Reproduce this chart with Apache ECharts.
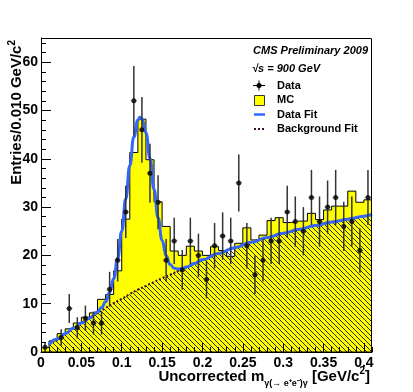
<!DOCTYPE html>
<html>
<head>
<meta charset="utf-8">
<script src="https://cdn.jsdelivr.net/npm/echarts@6/dist/echarts.min.js"></script>
<style>
  html, body { margin: 0; padding: 0; background: #fff; }
  #chart { width: 413px; height: 392px; }
</style>
</head>
<body>
<div id="chart"></div>
<script>
// histogram bins: 0.00 - 0.41, width 0.01
const binWidth = 0.01;
const nBins = 41;

// MC (yellow histogram)
const mcValues = [
  0.9, 2.3, 3.8, 4.8, 6.0, 7.2, 8.1, 10.9, 11.9, 16.8,
  27.5, 41.3, 48.2, 39.8, 31.1, 26.0, 20.9, 20.0, 21.9, 20.9,
  20.0, 21.8, 21.0, 19.8, 22.5, 25.7, 23.2, 24.2, 27.2, 27.8,
  26.8, 27.1, 27.1, 28.7, 27.4, 29.4, 30.2, 30.2, 33.3, 31.0,
  31.5
];

// data points (null = empty bin) and their error bars
const dataValues = [
  1, null, 3, 9, 5, 7, 6, 6, 13, 19,
  29, 52, 46, 37, 31, 19, 23, 17, 23, 20,
  15, 22, 24, 23, 35, 22, 16, 19, 23, 23,
  29, 27, 25, 32, 27, 30, 32, 26, 27, 21,
  32
];
const dataErrors = [
  1.0, null, 1.7, 3.0, 2.2, 2.6, 2.4, 2.4, 3.6, 4.4,
  5.4, 7.2, 6.8, 6.1, 5.6, 4.4, 4.8, 4.1, 4.8, 4.5,
  3.9, 4.7, 4.9, 4.8, 5.9, 4.7, 4.0, 4.4, 4.8, 4.8,
  5.4, 5.2, 5.0, 5.7, 5.2, 5.5, 5.7, 5.1, 5.2, 4.6,
  5.7
];

// data fit (blue curve)
const fitX = [0.01, 0.02, 0.03, 0.04, 0.05, 0.06, 0.07, 0.075, 0.08, 0.085,
  0.09, 0.095, 0.1, 0.105, 0.11, 0.115, 0.12, 0.1225, 0.125, 0.13,
  0.135, 0.14, 0.145, 0.15, 0.155, 0.16, 0.165, 0.17, 0.175, 0.18,
  0.19, 0.2, 0.22, 0.24, 0.26, 0.28, 0.3, 0.32, 0.34, 0.36,
  0.38, 0.4, 0.41];
const fitY = [1.5, 2.7, 3.8, 4.9, 6.0, 7.0, 8.3, 9.2, 10.4, 12.3,
  15.2, 19.4, 25.0, 31.7, 38.6, 44.5, 48.0, 48.6, 48.3, 45.4,
  40.1, 33.7, 27.8, 23.1, 19.9, 18.1, 17.35, 17.2, 17.3, 17.6,
  18.3, 19.1, 20.4, 21.6, 22.7, 23.7, 24.6, 25.4, 26.2, 26.9,
  27.5, 28.1, 28.5];

// background fit (dotted curve, hatched area)
const bkgX = [0.01, 0.02, 0.03, 0.04, 0.05, 0.06, 0.07, 0.08, 0.09, 0.1,
  0.11, 0.12, 0.13, 0.14, 0.15, 0.16, 0.17, 0.18, 0.19, 0.2,
  0.22, 0.24, 0.26, 0.28, 0.3, 0.32, 0.34, 0.36, 0.38, 0.4, 0.41];
const bkgY = [1.5, 2.7, 3.8, 4.9, 6.0, 7.0, 8.1, 9.1, 10.1, 11.0,
  12.0, 12.9, 13.7, 14.5, 15.3, 16.0, 16.8, 17.5, 18.3, 19.1,
  20.4, 21.6, 22.7, 23.7, 24.6, 25.4, 26.2, 26.9, 27.5, 28.1, 28.5];

const xTickLabels = ['0', '0.05', '0.1', '0.15', '0.2', '0.25', '0.3', '0.35', '0.4'];
const yTickLabels = ['0', '10', '20', '30', '40', '50', '60'];

const FONT = '"Liberation Sans", Arial, sans-serif';

function hatchPattern() {
  const c = document.createElement('canvas');
  c.width = 5;
  c.height = 5;
  const ctx = c.getContext('2d');
  ctx.strokeStyle = '#111';
  ctx.lineWidth = 0.9;
  ctx.beginPath();
  ctx.moveTo(0, 0); ctx.lineTo(5, 5);
  ctx.moveTo(-1, 4); ctx.lineTo(1, 6);
  ctx.moveTo(4, -1); ctx.lineTo(6, 1);
  ctx.stroke();
  return c;
}

const mcSteps = mcValues.map((v, i) => [i * binWidth, v]);
mcSteps.push([nBins * binWidth, mcValues[nBins - 1]]);

const points = [];
dataValues.forEach((v, i) => {
  if (v !== null) points.push([(i + 0.5) * binWidth, v, dataErrors[i]]);
});

const chart = echarts.init(document.getElementById('chart'));

const option = {
  animation: false,
  backgroundColor: '#fff',
  grid: { left: 41, top: 38, width: 331, height: 314 },
  xAxis: [
    {
      type: 'value', min: 0, max: 0.41, interval: 0.05, z: 10,
      axisLine: { show: true, lineStyle: { color: '#000', width: 1 } },
      axisTick: { show: true, inside: true, length: 9, lineStyle: { color: '#000' } },
      axisLabel: {
        margin: 4, color: '#000', fontFamily: FONT, fontWeight: 'bold', fontSize: 14,
        showMaxLabel: false,
        formatter: (v) => {
          const k = Math.round(v / 0.05);
          return Math.abs(v - k * 0.05) < 1e-6 ? (xTickLabels[k] || '') : '';
        }
      },
      splitLine: { show: false }
    },
    {
      type: 'value', position: 'bottom', min: 0, max: 0.41, interval: 0.01, z: 10,
      axisLine: { show: false },
      axisTick: { show: true, inside: true, length: 5, lineStyle: { color: '#000' } },
      axisLabel: { show: false },
      splitLine: { show: false }
    }
  ],
  yAxis: [
    {
      type: 'value', min: 0, max: 65, interval: 10, z: 10,
      axisLine: { show: true, lineStyle: { color: '#000', width: 1 } },
      axisTick: { show: true, inside: true, length: 10, lineStyle: { color: '#000' } },
      axisLabel: {
        margin: 3, color: '#000', fontFamily: FONT, fontWeight: 'bold', fontSize: 14,
        showMaxLabel: false,
        formatter: (v) => (v % 10 === 0 ? (yTickLabels[v / 10] || '') : '')
      },
      splitLine: { show: false }
    },
    {
      type: 'value', position: 'left', min: 0, max: 65, interval: 2, z: 10,
      axisLine: { show: false },
      axisTick: { show: true, inside: true, length: 5, lineStyle: { color: '#000' } },
      axisLabel: { show: false },
      splitLine: { show: false }
    }
  ],
  series: [
    {
      name: 'MC', type: 'line', step: 'end', data: mcSteps,
      symbol: 'none', z: 1,
      lineStyle: { color: '#000', width: 1 },
      areaStyle: { color: '#ffff00', opacity: 1 }
    },
    {
      name: 'Background Fit', type: 'line', data: bkgX.map((x, i) => [x, bkgY[i]]),
      smooth: true, symbol: 'none', z: 2,
      lineStyle: { color: '#3b0b36', width: 2, type: [2, 2] },
      areaStyle: { color: { image: hatchPattern(), repeat: 'repeat' }, opacity: 1 }
    },
    {
      name: 'Data Fit', type: 'line', data: fitX.map((x, i) => [x, fitY[i]]),
      smooth: 0.5, smoothMonotone: 'x', symbol: 'none', z: 3,
      lineStyle: { color: '#3366ff', width: 3 }
    },
    {
      name: 'errors', type: 'custom', data: points, z: 4,
      renderItem: (params, api) => {
        const x = api.value(0), y = api.value(1), e = api.value(2);
        const lo = api.coord([x, y - e]);
        const hi = api.coord([x, y + e]);
        const l = api.coord([x - 0.004, y]);
        const r = api.coord([x + 0.004, y]);
        return {
          type: 'group',
          children: [
            { type: 'line', shape: { x1: lo[0], y1: lo[1], x2: hi[0], y2: hi[1] },
              style: { stroke: '#333', lineWidth: 1.5 } },
            { type: 'line', shape: { x1: l[0], y1: l[1], x2: r[0], y2: r[1] },
              style: { stroke: '#888', lineWidth: 1 } }
          ]
        };
      }
    },
    {
      name: 'Data', type: 'scatter', data: points.map((p) => [p[0], p[1]]),
      symbol: 'circle', symbolSize: 5, z: 5,
      itemStyle: { color: '#000' }
    }
  ],
  graphic: [
    { type: 'rect', z: 100, shape: { x: 41.5, y: 38.5, width: 330, height: 313.5 },
      style: { fill: 'none', stroke: '#000', lineWidth: 1 } },
    { type: 'text', x: 17, y: 40, rotation: Math.PI / 2, z: 100,
      style: {
        text: '{a|Entries/0.010 GeV/c}{p|2}', align: 'right', verticalAlign: 'middle',
        textAlign: 'right', textVerticalAlign: 'middle',
        rich: {
          a: { fontFamily: FONT, fontWeight: 'bold', fontSize: 15, fill: '#000', lineHeight: 20 },
          p: { fontFamily: FONT, fontWeight: 'bold', fontSize: 10, fill: '#000', verticalAlign: 'top' }
        }
      } },
    { type: 'text', x: 370, y: 377, z: 100,
      style: {
        text: '{a|Uncorrected m}{s|γ(→ e⁺e⁻)γ}{a| [GeV/c}{p|2}{a|]}',
        align: 'right', verticalAlign: 'middle', textAlign: 'right', textVerticalAlign: 'middle',
        rich: {
          a: { fontFamily: FONT, fontWeight: 'bold', fontSize: 15, fill: '#000', lineHeight: 22 },
          s: { fontFamily: FONT, fontWeight: 'bold', fontSize: 9, fill: '#000', verticalAlign: 'bottom' },
          p: { fontFamily: FONT, fontWeight: 'bold', fontSize: 10, fill: '#000', verticalAlign: 'top' }
        }
      } },
    { type: 'text', x: 368, y: 51, z: 100,
      style: { text: 'CMS Preliminary 2009', font: 'italic bold 11px ' + FONT, fill: '#000',
        align: 'right', verticalAlign: 'middle', textAlign: 'right', textVerticalAlign: 'middle' } },
    { type: 'text', x: 252, y: 69, z: 100,
      style: { text: '√s = 900 GeV', font: 'italic bold 11px ' + FONT, fill: '#000',
        align: 'left', verticalAlign: 'middle', textAlign: 'left', textVerticalAlign: 'middle' } },
    // legend: Data
    { type: 'line', z: 100, shape: { x1: 253, y1: 85.5, x2: 265, y2: 85.5 }, style: { stroke: '#000', lineWidth: 1 } },
    { type: 'line', z: 100, shape: { x1: 259, y1: 80.5, x2: 259, y2: 90.5 }, style: { stroke: '#000', lineWidth: 1 } },
    { type: 'circle', z: 100, shape: { cx: 259, cy: 85.5, r: 2.5 }, style: { fill: '#000' } },
    { type: 'text', x: 277, y: 85.5, z: 100,
      style: { text: 'Data', font: 'bold 11px ' + FONT, fill: '#000', align: 'left', verticalAlign: 'middle', textAlign: 'left', textVerticalAlign: 'middle' } },
    // legend: MC
    { type: 'rect', z: 100, shape: { x: 254.5, y: 95.5, width: 10, height: 10 },
      style: { fill: '#ffff00', stroke: '#333', lineWidth: 1 } },
    { type: 'text', x: 277, y: 100, z: 100,
      style: { text: 'MC', font: 'bold 11px ' + FONT, fill: '#000', align: 'left', verticalAlign: 'middle', textAlign: 'left', textVerticalAlign: 'middle' } },
    // legend: Data Fit
    { type: 'line', z: 100, shape: { x1: 254, y1: 114.5, x2: 265, y2: 114.5 }, style: { stroke: '#3366ff', lineWidth: 2.5 } },
    { type: 'text', x: 277, y: 114.5, z: 100,
      style: { text: 'Data Fit', font: 'bold 11px ' + FONT, fill: '#000', align: 'left', verticalAlign: 'middle', textAlign: 'left', textVerticalAlign: 'middle' } },
    // legend: Background Fit
    { type: 'line', z: 100, shape: { x1: 254, y1: 129, x2: 265, y2: 129 }, style: { stroke: '#3b0b36', lineWidth: 2, lineDash: [2, 2] } },
    { type: 'text', x: 277, y: 129, z: 100,
      style: { text: 'Background Fit', font: 'bold 11px ' + FONT, fill: '#000', align: 'left', verticalAlign: 'middle', textAlign: 'left', textVerticalAlign: 'middle' } }
  ]
};

chart.setOption(option);
</script>
</body>
</html>
